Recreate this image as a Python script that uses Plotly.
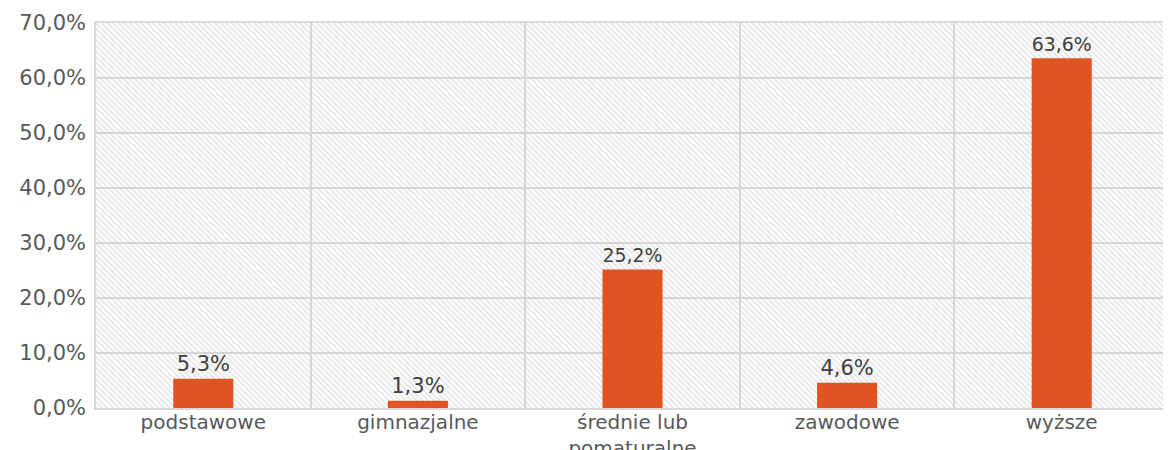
import plotly.graph_objects as go

categories = ["podstawowe", "gimnazjalne", "średnie lub<br>pomaturalne", "zawodowe", "wyższe"]
values = [5.3, 1.3, 25.2, 4.6, 63.6]
y_max = 70
tick_vals = [0, 10, 20, 30, 40, 50, 60, 70]
tick_text = [f"{v:.1f}".replace(".", ",") + "%" for v in tick_vals]
labels = [f"{v:.1f}".replace(".", ",") + "%" for v in values]

fig = go.Figure()

# hatched plot background
fig.add_trace(go.Bar(
    x=categories, y=[y_max] * len(categories), width=1,
    marker=dict(color="rgba(0,0,0,0)", line=dict(width=0),
                pattern=dict(shape="\\", fgcolor="#c8c8c8", bgcolor="rgba(255,255,255,0)",
                             size=4, solidity=0.4, fillmode="overlay")),
    hoverinfo="skip", showlegend=False,
))

fig.add_trace(go.Bar(
    x=categories, y=values, width=0.28,
    marker=dict(color="#E05424", line=dict(width=0)),
    text=labels, textposition="outside", cliponaxis=False,
    textfont=dict(family="DejaVu Sans", size=21, color="#404040"),
    showlegend=False,
))

fig.update_layout(
    width=1171, height=450,
    margin=dict(l=88, r=10, t=15, b=50, autoexpand=False),
    barmode="overlay",
    plot_bgcolor="white", paper_bgcolor="white",
    font=dict(family="DejaVu Sans", size=21, color="#595959"),
    xaxis=dict(type="category", tickson="boundaries", showgrid=True, gridcolor="#d9d9d9",
               gridwidth=1.5, ticks="", showline=True, linecolor="#d9d9d9", linewidth=1.5,
               mirror=True, automargin=False, ticklabelstandoff=-5,
               tickfont=dict(size=20, color="#595959")),
    yaxis=dict(range=[0, y_max], tickvals=tick_vals, ticktext=tick_text, showgrid=True,
               gridcolor="#d9d9d9", gridwidth=1.5, showline=True, linecolor="#d9d9d9",
               linewidth=1.5, mirror=True, zeroline=False, ticks="", ticklen=0,
               automargin=False, ticklabelstandoff=4,
               tickfont=dict(size=21, color="#595959")),
)

fig.write_html("out.html")
